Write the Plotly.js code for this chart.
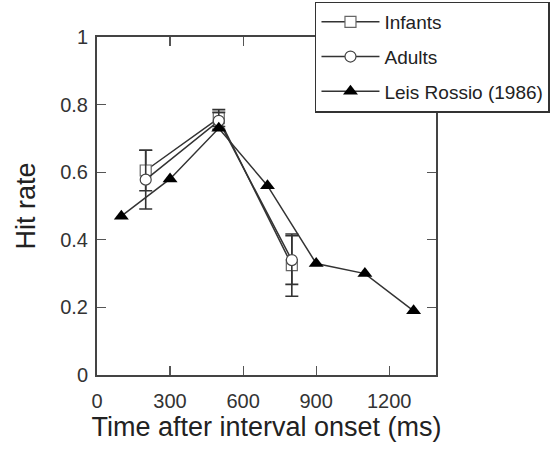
<!DOCTYPE html>
<html>
<head>
<meta charset="utf-8">
<script src="https://cdn.plot.ly/plotly-3.0.1.min.js"></script>
<style>html,body{margin:0;padding:0;background:#fff;}#chart{width:553px;height:454px;}</style>
</head>
<body>
<div id="chart"></div>
<script>
// Data
const infantsX = [200, 500, 800];
const infantsY = [0.605, 0.760, 0.325];
const infantsErr = [0.060, 0.025, 0.092];

const adultsX = [200, 500, 800];
const adultsY = [0.578, 0.752, 0.340];
const adultsErr = [0.087, 0.025, 0.072];

const leisX = [100, 300, 500, 700, 900, 1100, 1300];
const leisY = [0.47, 0.58, 0.73, 0.56, 0.33, 0.30, 0.19];

const xTicks = [0, 300, 600, 900, 1200];
const yTicks = [0, 0.2, 0.4, 0.6, 0.8, 1];
const yTickLabels = ['0', '0.2', '0.4', '0.6', '0.8', '1'];

const lineCol = '#333333';
const FONT = 'Liberation Sans, Arial, Helvetica, sans-serif';

const traces = [
  {
    x: infantsX, y: infantsY, name: 'Infants', mode: 'lines+markers', type: 'scatter',
    legendgroup: 'a',
    line: {color: lineCol, width: 1.5},
    marker: {symbol: 'square', size: 11, color: '#ffffff', line: {color: '#666666', width: 1.2}},
    error_y: {type: 'data', array: infantsErr, visible: true, color: lineCol, thickness: 1.6, width: 6.5}
  },
  {
    x: adultsX, y: adultsY, name: 'Adults', mode: 'lines+markers', type: 'scatter',
    legendgroup: 'b',
    line: {color: lineCol, width: 1.5},
    marker: {symbol: 'circle', size: 11, color: '#ffffff', line: {color: '#444444', width: 1.2}},
    error_y: {type: 'data', array: adultsErr, visible: true, color: lineCol, thickness: 1.6, width: 6.5}
  },
  {
    x: leisX, y: leisY, name: 'Leis Rossio (1986)', mode: 'lines+markers', type: 'scatter',
    legendgroup: 'c',
    line: {color: lineCol, width: 1.5},
    marker: {symbol: 'triangle-up', size: 13, color: '#000000', line: {color: '#000000', width: 0}}
  }
];

const axisCommon = {
  showgrid: false, zeroline: false, showline: true, linecolor: '#444444', linewidth: 2,
  mirror: 'ticks', ticks: 'inside', ticklen: 9, tickwidth: 1.2, tickcolor: '#555555',
  tickfont: {family: FONT, size: 20, color: '#333333'}
};

const layout = {
  width: 553, height: 454,
  margin: {l: 97, r: 117, t: 37, b: 79, autoexpand: false},
  paper_bgcolor: '#ffffff', plot_bgcolor: '#ffffff',
  font: {family: FONT, color: '#222222'},
  showlegend: true,
  xaxis: Object.assign({}, axisCommon, {
    range: [0, 1392], tickvals: xTicks, ticktext: xTicks.map(String),
    ticklabelstandoff: 7,
    title: {text: 'Time after interval onset (ms)', font: {family: FONT, size: 27, color: '#222222'}, standoff: 4}
  }),
  yaxis: Object.assign({}, axisCommon, {
    range: [0, 1], tickvals: yTicks, ticktext: yTickLabels,
    ticklabelstandoff: 3,
    title: {text: 'Hit rate', font: {family: FONT, size: 27, color: '#222222'}, standoff: 17}
  }),
  legend: {
    xref: 'paper', x: 0.643, xanchor: 'left',
    yref: 'paper', y: 1.105, yanchor: 'top',
    bgcolor: '#ffffff', bordercolor: '#333333', borderwidth: 1.5,
    font: {family: FONT, size: 19, color: '#222222'},
    tracegroupgap: 7, itemwidth: 58
  }
};

Plotly.newPlot('chart', traces, layout, {displayModeBar: false, staticPlot: true});
</script>
</body>
</html>
